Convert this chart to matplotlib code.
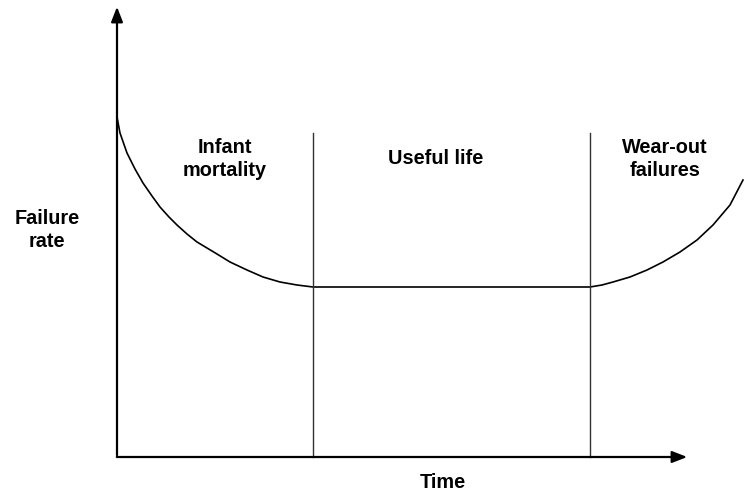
import matplotlib
matplotlib.use("Agg")
import matplotlib.pyplot as plt

# bathtub curve (time units ~ pixels from the y axis)
infant_t = [0, 3, 10, 18, 26, 35, 43, 52, 60, 70, 80, 90, 100, 113, 130, 146, 163, 180, 196]
infant_rate = [340, 324, 304, 288, 274, 261, 250, 240, 232, 223, 215, 209, 203, 195, 187, 180, 175, 172, 170]
useful_t = [196, 473]
useful_rate = [170, 170]
wear_t = [473, 485, 496, 513, 530, 546, 563, 580, 596, 613, 626]
wear_rate = [170, 172, 175, 180, 187, 195, 205, 217, 232, 252, 277]

boundaries = [196, 473]
region_labels = ["Infant\nmortality", "Useful life", "Wear-out\nfailures"]
label_t = [108, 319, 548]
label_rate = [298, 299, 298]

plt.rcParams['font.family'] = ['Liberation Sans', 'DejaVu Sans']

fig = plt.figure(figsize=(7.44, 4.97), dpi=100)
ax = fig.add_axes([0, 0, 1, 1])
ax.set_xlim(-117, 627)
ax.set_ylim(-40, 457)
ax.axis('off')

t = infant_t + useful_t[1:] + wear_t[1:]
r = infant_rate + useful_rate[1:] + wear_rate[1:]
ax.plot(t, r, color='black', lw=1.2, solid_joinstyle='round')

for b in boundaries:
    ax.plot([b, b], [0, 324], color='#333333', lw=1.0)

# axes with arrow heads
ax.annotate('', xy=(573, 0), xytext=(-3, 0),
            arrowprops=dict(arrowstyle='-|>,head_length=0.9,head_width=0.35', color='black', lw=1.6))
ax.annotate('', xy=(0, 453), xytext=(0, -1),
            arrowprops=dict(arrowstyle='-|>,head_length=0.9,head_width=0.35', color='black', lw=1.6))

for lab, x, y in zip(region_labels, label_t, label_rate):
    ax.text(x, y, lab, ha='center', va='center', fontsize=14.3, fontweight='bold', linespacing=1.25)

ax.text(-70, 227, "Failure\nrate", ha='center', va='center', fontsize=14.3, fontweight='bold', linespacing=1.25)
ax.text(326, -26, "Time", ha='center', va='center', fontsize=14.3, fontweight='bold')

fig.savefig("out.png", dpi=100)
